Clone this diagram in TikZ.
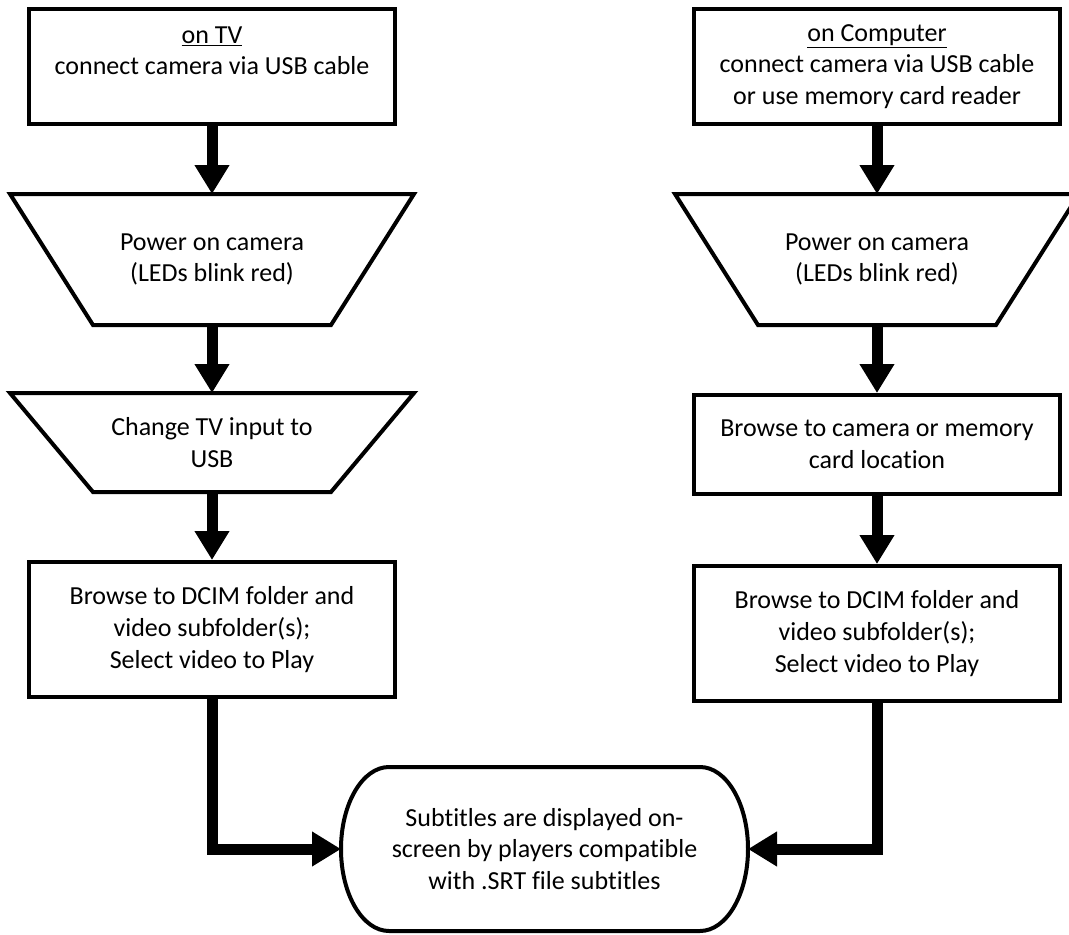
\documentclass[tikz,border=0pt]{standalone}
\usepackage{fontspec}
\setmainfont{Carlito}[Ligatures=NoCommon]
\usetikzlibrary{positioning, arrows.meta}
\tikzset{
  box node/.style={rectangle, draw, line width=4pt, minimum width=366pt, align=center, font=\fontsize{26}{31.6}\selectfont},
  manual node/.style={rectangle, minimum width=404pt, outer sep=0pt, align=center, font=\fontsize{26}{31.6}\selectfont},
  end node/.style={rectangle, minimum width=407pt, minimum height=164pt, outer sep=0pt, align=center, font=\fontsize{26}{31.6}\selectfont},
  outline/.style={line width=4pt, line join=miter},
  flow/.style={line width=11pt, -{Triangle[length=29pt, width=33pt]}},
}

\begin{document}
\begin{tikzpicture}[x=1pt, y=1pt]
  \useasboundingbox (0,0) rectangle (1069,-935);
  % TV column
  \node[box node, minimum height=115pt] (tvconnect) at (212,-66.5) {\underline{on TV}\\connect camera via USB cable\\~};
  \node[manual node, minimum height=131pt] [below = 68pt of tvconnect] (tvpower) {Power on camera\\(LEDs blink red)};
  \node[manual node, minimum height=99pt] [below = 68pt of tvpower] (tvinput) {Change TV input to\\USB};
  \node[box node, minimum height=135pt] [below = 68pt of tvinput] (tvplay) {Browse to DCIM folder and\\video subfolder(s);\\Select video to Play};
  % Computer column
  \node[box node, minimum height=115pt] (pcconnect) at (877,-66.5) {\underline{on Computer}\\connect camera via USB cable\\or use memory card reader};
  \node[manual node, minimum height=131pt] [below = 68pt of pcconnect] (pcpower) {Power on camera\\(LEDs blink red)};
  \node[box node, minimum height=99pt] [below = 68pt of pcpower] (pcbrowse) {Browse to camera or memory\\card location};
  \node[box node, minimum height=135pt] [below = 68pt of pcbrowse] (pcplay) {Browse to DCIM folder and\\video subfolder(s);\\Select video to Play};
  % Result
  \node[end node] (subs) at (544.5,-849) {Subtitles are displayed on-\\screen by players compatible\\with .SRT file subtitles};
  % Outlines
  \foreach \n in {tvpower, tvinput, pcpower}
    \draw[outline] (\n.north west) -- (\n.north east) -- ([xshift=-83pt]\n.south east) -- ([xshift=83pt]\n.south west) -- cycle;
  \draw[outline] ([xshift=48pt]subs.north west) -- ([xshift=-48pt]subs.north east)
    arc[start angle=90, end angle=-90, x radius=48pt, y radius=82pt]
    -- ([xshift=48pt]subs.south west)
    arc[start angle=270, end angle=90, x radius=48pt, y radius=82pt] -- cycle;
  % Paths
  \draw[flow] (tvconnect) -- (tvpower);
  \draw[flow] (tvpower) -- (tvinput);
  \draw[flow] (tvinput) -- (tvplay);
  \draw[flow] (pcconnect) -- (pcpower);
  \draw[flow] (pcpower) -- (pcbrowse);
  \draw[flow] (pcbrowse) -- (pcplay);
  \draw[flow] (tvplay.south) |- (subs.west);
  \draw[flow] (pcplay.south) |- (subs.east);
\end{tikzpicture}
\end{document}
